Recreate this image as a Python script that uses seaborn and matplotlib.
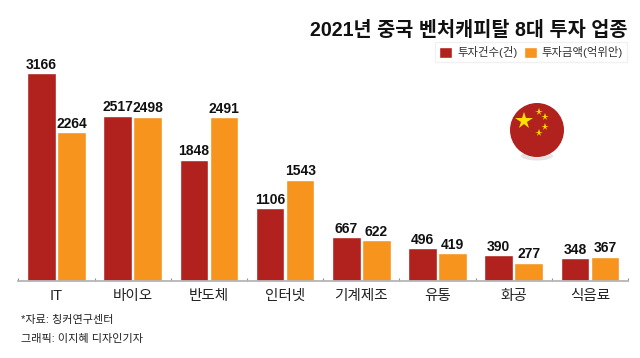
import matplotlib
matplotlib.use("Agg")
import matplotlib.pyplot as plt
from matplotlib.patches import Circle, Ellipse
import pandas as pd
import seaborn as sns

categories = ["IT", "바이오", "반도체", "인터넷", "기계제조", "유통", "화공", "식음료"]
deals = [3166, 2517, 1848, 1106, 667, 496, 390, 348]
amount = [2264, 2498, 2491, 1543, 622, 419, 277, 367]
series_names = ["투자건수(건)", "투자금액(억위안)"]
colors = ["#b1211d", "#f7941d"]

W, H = 640, 358

sns.set_theme(style="white")
plt.rcParams['font.family'] = ['Liberation Sans', 'Noto Sans CJK KR']

df = pd.DataFrame({
    "cat": categories * 2,
    "val": deals + amount,
    "series": [series_names[0]] * 8 + [series_names[1]] * 8,
})

fig = plt.figure(figsize=(W / 100, H / 100), dpi=100, facecolor="white")
ax = fig.add_axes([18 / W, 1 - 281 / H, (628 - 18) / W, 240 / H])

sns.barplot(data=df, x="cat", y="val", hue="series", order=categories,
            hue_order=series_names, palette=colors, saturation=1,
            width=0.79, gap=0.05, legend=True, ax=ax)

ax.set_xlim(-0.505, 7.5)
ax.set_ylim(0, 240 / 0.0657)
ax.set_xlabel("")
ax.set_ylabel("")
ax.set_yticks([])
ax.tick_params(axis="x", length=0, pad=6, labelsize=10.5, labelcolor="#222222")
# small ticks between the groups
ax.set_xticks([i - 0.5 for i in range(9)], minor=True)
ax.tick_params(axis="x", which="minor", direction="in", length=2.5, width=0.8,
               color="#909090", bottom=True)
sns.despine(ax=ax, left=True)
ax.spines["bottom"].set_color("#b5b5b5")
ax.spines["bottom"].set_linewidth(1.3)

for container in ax.containers:
    ax.bar_label(container, padding=1, fontsize=10, fontweight="bold", color="#111111")

leg = ax.legend(loc="upper right", bbox_to_anchor=(627 / W, 1 - 42 / H),
                bbox_transform=fig.transFigure, ncol=2, frameon=True,
                fontsize=8.2, handlelength=1.1, handleheight=1.1, handletextpad=0.45,
                columnspacing=0.6, borderpad=0.35, borderaxespad=0, fancybox=False,
                edgecolor="#eeeeee", labelcolor="#333333")

fig.text(627 / W, 1 - 28 / H, "2021년 중국 벤처캐피탈 8대 투자 업종", ha="right",
         va="center_baseline", fontsize=14.15, fontweight="bold", color="#111111")
fig.text(21 / W, 1 - 320 / H, "*자료: 칭커연구센터", ha="left", va="center",
         fontsize=8, color="#222222")
fig.text(21 / W, 1 - 339 / H, "그래픽: 이지혜 디자인기자", ha="left", va="center",
         fontsize=8, color="#222222")

# flag badge, drawn in pixel coordinates
fa = fig.add_axes([0, 0, 1, 1], zorder=3)
fa.set_xlim(0, W)
fa.set_ylim(H, 0)
fa.axis("off")
fa.patch.set_alpha(0)
fa.add_patch(Ellipse((537, 156), 32, 9, color="#000000", alpha=0.1, lw=0))
fa.add_patch(Circle((537, 130), 27, color="#b1211d", lw=0))
fa.plot([524], [120.5], marker="*", ms=13, color="#ffe000", mew=0)
for sx, sy in [(539, 112), (545, 117), (545, 127), (539, 133)]:
    fa.plot([sx], [sy], marker="*", ms=5.5, color="#ffe000", mew=0)

fig.savefig("out.png", dpi=100)
